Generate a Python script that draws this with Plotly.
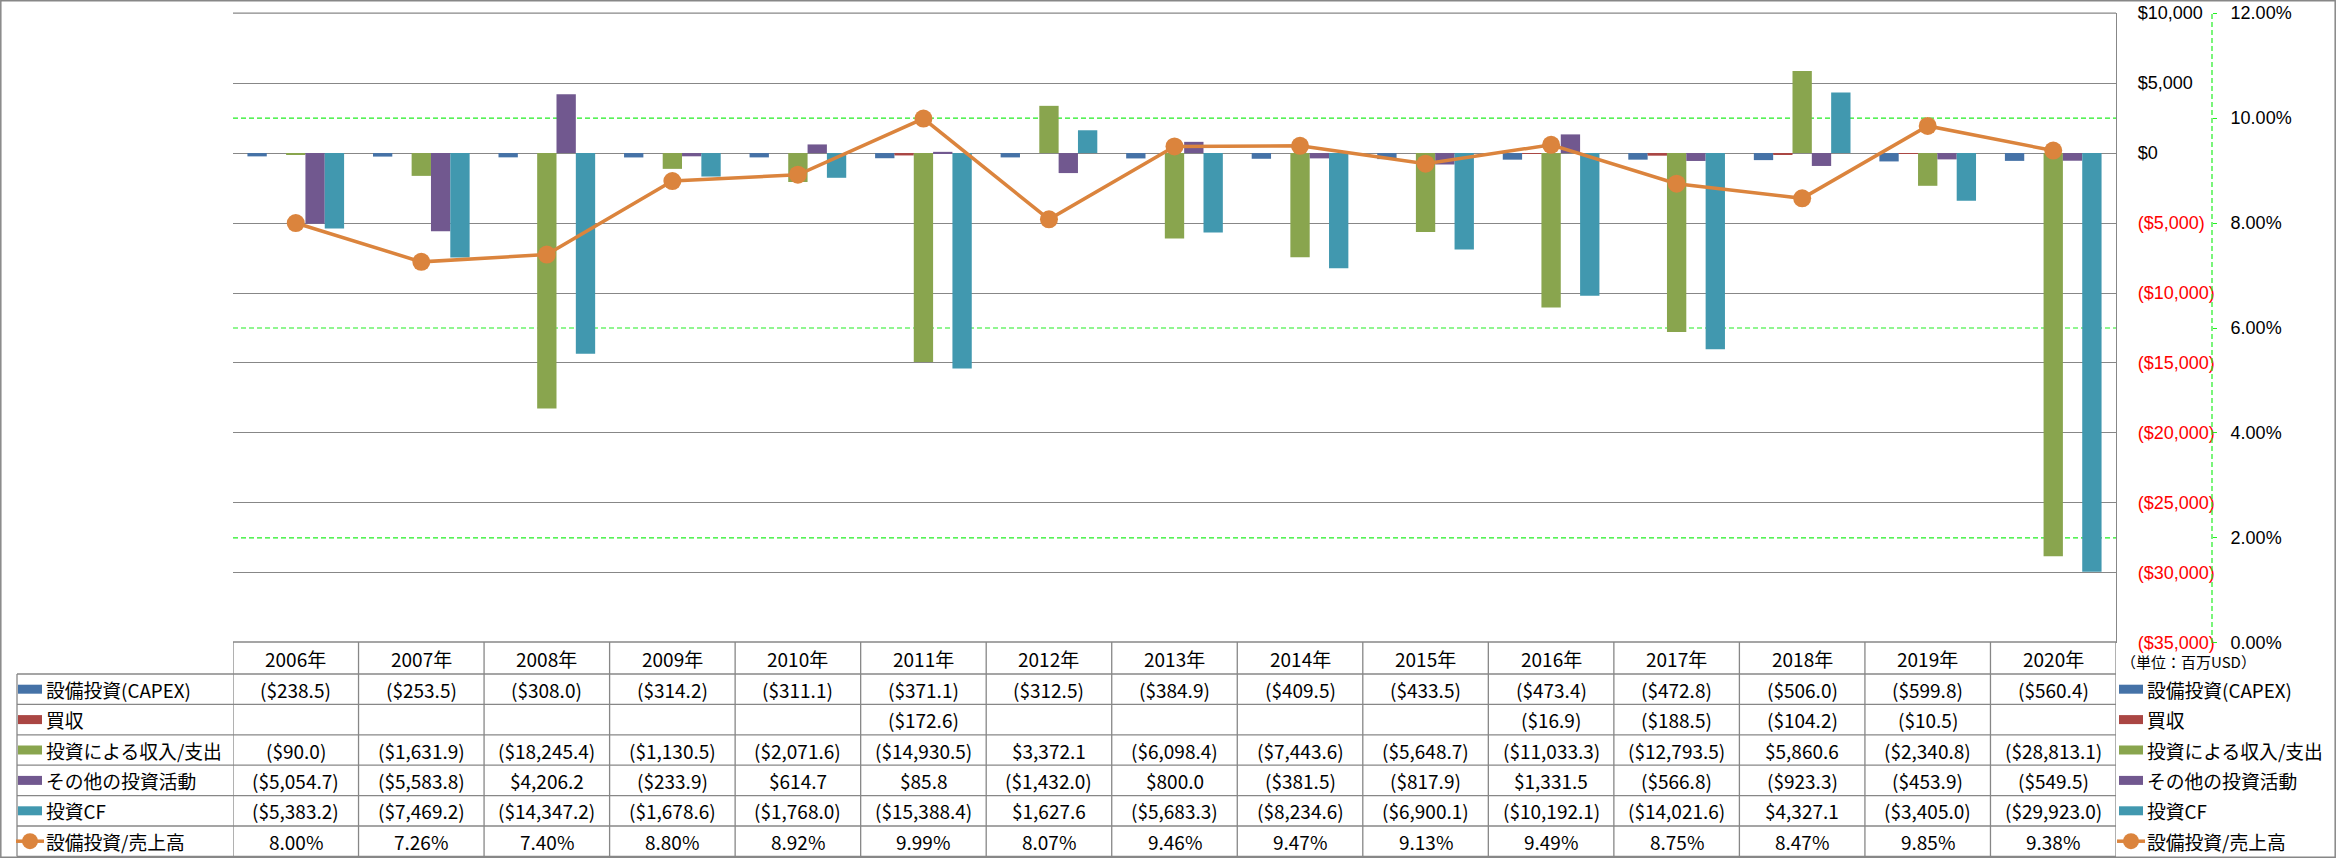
import plotly.graph_objects as go

# ---------------- data ----------------
years = ["2006年", "2007年", "2008年", "2009年", "2010年", "2011年", "2012年", "2013年",
         "2014年", "2015年", "2016年", "2017年", "2018年", "2019年", "2020年"]

capex = [-238.5, -253.5, -308.0, -314.2, -311.1, -371.1, -312.5, -384.9,
         -409.5, -433.5, -473.4, -472.8, -506.0, -599.8, -560.4]
acquisition = [None, None, None, None, None, -172.6, None, None,
               None, None, -16.9, -188.5, -104.2, -10.5, None]
investment_net = [-90.0, -1631.9, -18245.4, -1130.5, -2071.6, -14930.5, 3372.1, -6098.4,
                  -7443.6, -5648.7, -11033.3, -12793.5, 5860.6, -2340.8, -28813.1]
other_investing = [-5054.7, -5583.8, 4206.2, -233.9, 614.7, 85.8, -1432.0, 800.0,
                   -381.5, -817.9, 1331.5, -566.8, -923.3, -453.9, -549.5]
investing_cf = [-5383.2, -7469.2, -14347.2, -1678.6, -1768.0, -15388.4, 1627.6, -5683.3,
                -8234.6, -6900.1, -10192.1, -14021.6, 4327.1, -3405.0, -29923.0]
capex_to_sales = [8.00, 7.26, 7.40, 8.80, 8.92, 9.99, 8.07, 9.46,
                  9.47, 9.13, 9.49, 8.75, 8.47, 9.85, 9.38]

bar_names = ["設備投資(CAPEX)", "買収", "投資による収入/支出", "その他の投資活動", "投資CF"]
bar_series = [capex, acquisition, investment_net, other_investing, investing_cf]
line_name = "設備投資/売上高"

y_tick_vals = [10000, 5000, 0, -5000, -10000, -15000, -20000, -25000, -30000, -35000]
y2_tick_vals = [0, 2, 4, 6, 8, 10, 12]
unit_label = "（単位：百万USD）"

# ---------------- styles ----------------
bar_colors = ["#4572A7", "#AA4643", "#89A54E", "#71588F", "#4198AF"]
line_color = "#DB843D"
GRID = "#878787"
GREEN = "#22EE22"
GREEN_DASH = "5px,3px"
JP = "Noto Sans CJK JP"
AX = "Liberation Sans"

W, H = 2336, 858
L, T = 233, 13
PLOT_R, PLOT_B = 2116, 643
PW = W - L
PH = PLOT_B - T
Y2_X = 2212

Y_MIN, Y_MAX = -35000, 10000
Y2_MIN, Y2_MAX = 0, 12
EPS = 5
EPS2 = EPS * (Y2_MAX - Y2_MIN) / (Y_MAX - Y_MIN)
Y_RANGE = [Y_MIN - EPS, Y_MAX + EPS]
Y2_RANGE = [Y2_MIN - EPS2, Y2_MAX + EPS2]


def px(x):
    return (x - L) / PW


def py(y):
    return (PLOT_B - y) / PH


def y_paper(v):
    return (v - Y_RANGE[0]) / (Y_RANGE[1] - Y_RANGE[0])


def y2_paper(v):
    return (v - Y2_RANGE[0]) / (Y2_RANGE[1] - Y2_RANGE[0])


def y2_as_y(v):
    return Y_MIN + (v - Y2_MIN) / (Y2_MAX - Y2_MIN) * (Y_MAX - Y_MIN)


x_end = px(PLOT_R)


def money(v):
    if v is None:
        return ""
    s = "${:,.1f}".format(abs(v))
    return "({})".format(s) if v < 0 else s


def tick_money(v):
    s = "${:,.0f}".format(abs(v))
    if v < 0:
        return '<span style="color:#FF0000">({})</span>'.format(s)
    return s


fig = go.Figure()
for name, vals, col in zip(bar_names, bar_series, bar_colors):
    fig.add_trace(go.Bar(x=years, y=vals, name=name, marker=dict(color=col, line=dict(width=0)),
                         yaxis="y"))
fig.add_trace(go.Scatter(x=years, y=capex_to_sales, name=line_name, yaxis="y2",
                         mode="lines+markers", line=dict(color=line_color, width=3.5),
                         marker=dict(size=18, color=line_color)))

# ---------------- table geometry ----------------
header_top, header_bot = 642, 674
row_h = 30.4
row_bounds = [header_bot + k * row_h for k in range(7)]
row_centers = [(row_bounds[k] + row_bounds[k + 1]) / 2 for k in range(6)]
label_left = 17

shapes = []
annotations = []
line_style = dict(color=GRID, width=1.3)

# secondary-axis gridlines (hidden where a primary gridline lies on top)
for v in y2_tick_vals:
    if any(abs(y2_as_y(v) - t) < 1 for t in y_tick_vals):
        continue
    shapes.append(dict(type="line", xref="paper", yref="paper", x0=0, x1=x_end,
                       y0=y2_paper(v), y1=y2_paper(v),
                       line=dict(color=GREEN, width=1.2, dash=GREEN_DASH), layer="below"))

# top gridline of the value axis (at its maximum)
shapes.append(dict(type="line", xref="paper", yref="paper", x0=0, x1=x_end,
                   y0=y_paper(Y_MAX), y1=y_paper(Y_MAX), line=line_style))

# outer border
shapes.append(dict(type="rect", xref="paper", yref="paper", x0=px(0.8), x1=px(W - 0.8),
                   y0=py(H - 0.8), y1=py(0.8), line=dict(color=GRID, width=1.5), layer="above"))

# secondary axis dashed line
shapes.append(dict(type="line", xref="paper", yref="paper", x0=px(Y2_X), x1=px(Y2_X),
                   y0=0, y1=1, line=dict(color=GREEN, width=1.2, dash=GREEN_DASH)))

# header top line
shapes.append(dict(type="line", xref="paper", yref="paper", x0=0, x1=x_end,
                   y0=py(header_top), y1=py(header_top), line=line_style))
# row lines
for yb in row_bounds:
    shapes.append(dict(type="line", xref="paper", yref="paper", x0=px(label_left), x1=x_end,
                       y0=py(yb), y1=py(yb), line=line_style))
# vertical lines in table
for i in range(len(years) + 1):
    shapes.append(dict(type="line", xref="x", yref="paper", x0=i - 0.5, x1=i - 0.5,
                       y0=py(header_top), y1=py(row_bounds[-1]), line=line_style))
shapes.append(dict(type="line", xref="paper", yref="paper", x0=px(label_left), x1=px(label_left),
                   y0=py(row_bounds[0]), y1=py(row_bounds[-1]), line=line_style))

# header texts
for i, yr in enumerate(years):
    annotations.append(dict(x=i, xref="x", y=py((header_top + header_bot) / 2), yref="paper",
                            text=yr, showarrow=False, xanchor="center", yanchor="middle",
                            font=dict(family=JP, size=19, color="#000")))

# cell texts
rows_text = [[money(v) for v in s] for s in bar_series]
rows_text.append(["{:.2f}%".format(v) for v in capex_to_sales])
for r, texts in enumerate(rows_text):
    for i, t in enumerate(texts):
        if t:
            annotations.append(dict(x=i, xref="x", y=py(row_centers[r]), yref="paper", text=t,
                                    showarrow=False, xanchor="center", yanchor="middle",
                                    font=dict(family=JP, size=19, color="#000")))

# legend keys (table left + right legend)
all_names = bar_names + [line_name]
for key_left, text_left in [(18, 44), (2119, 2145)]:
    for r, name in enumerate(all_names):
        yc = row_centers[r]
        if r < 5:
            shapes.append(dict(type="rect", xref="paper", yref="paper",
                               x0=px(key_left), x1=px(key_left + 24),
                               y0=py(yc + 4.5), y1=py(yc - 4.5),
                               fillcolor=bar_colors[r], line=dict(width=0)))
        else:
            shapes.append(dict(type="line", xref="paper", yref="paper",
                               x0=px(key_left - 2), x1=px(key_left + 26),
                               y0=py(yc), y1=py(yc), line=dict(color=line_color, width=3.5)))
            shapes.append(dict(type="circle", xref="paper", yref="paper",
                               x0=px(key_left + 12 - 8), x1=px(key_left + 12 + 8),
                               y0=py(yc + 8), y1=py(yc - 8),
                               fillcolor=line_color, line=dict(width=0)))
        annotations.append(dict(x=px(text_left), xref="paper", y=py(yc), yref="paper", text=name,
                                showarrow=False, xanchor="left", yanchor="middle",
                                font=dict(family=JP, size=18.8, color="#000")))

annotations.append(dict(x=px(2119), xref="paper", y=py(662), yref="paper", text=unit_label,
                        showarrow=False, xanchor="left", yanchor="middle",
                        font=dict(family=JP, size=15, color="#000")))

fig.update_layout(
    width=W, height=H,
    margin=dict(l=L, r=0, t=T, b=H - PLOT_B, pad=0),
    paper_bgcolor="white", plot_bgcolor="white",
    barmode="group", bargap=0.23, bargroupgap=0,
    showlegend=False,
    xaxis=dict(domain=[0, x_end], type="category", range=[-0.5, len(years) - 0.5],
               showticklabels=False, showgrid=False, zeroline=False, showline=False, ticks=""),
    yaxis=dict(side="right", range=Y_RANGE, tickvals=y_tick_vals,
               ticktext=[tick_money(v) for v in y_tick_vals],
               showgrid=True, gridcolor=GRID, gridwidth=1.3, zeroline=False,
               showline=True, linecolor=GRID, linewidth=1.3, ticks="", ticklabelstandoff=17,
               tickfont=dict(family=AX, size=18, color="#000")),
    yaxis2=dict(overlaying="y", anchor="free", position=px(Y2_X), side="right",
                range=Y2_RANGE, tickvals=y2_tick_vals,
                ticktext=["{:.2f}%".format(v) for v in y2_tick_vals],
                showgrid=False, zeroline=False, showline=False,
                ticks="outside", ticklen=4, tickcolor=GREEN,
                ticklabelstandoff=10, tickfont=dict(family=AX, size=18, color="#000")),
    shapes=shapes,
    annotations=annotations,
)

fig.write_html("out.html", config={"displayModeBar": False},
               post_script="document.body.style.margin='0px';")
